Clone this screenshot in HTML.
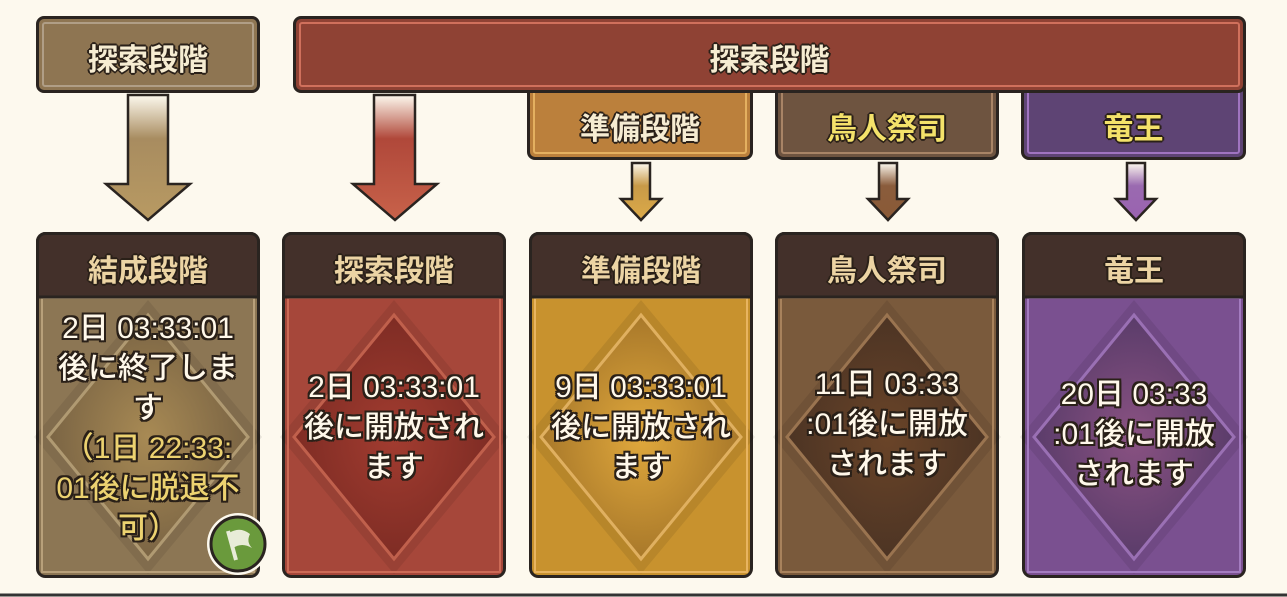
<!DOCTYPE html>
<html><head><meta charset="utf-8"><style>
body{margin:0;width:1287px;height:597px;background:#fdf9ee;position:relative;overflow:hidden;font-family:"Liberation Sans","Noto Sans CJK JP",sans-serif;}
.a{position:absolute;box-sizing:border-box;}
.box{border:3px solid #2a2420;border-radius:8px;}
.in{position:absolute;left:3px;right:3px;top:3px;bottom:3px;border:2px solid rgba(255,255,255,0.3);border-radius:3px;}
.t{position:absolute;left:0;right:0;text-align:center;color:#f6ecd2;font-size:30px;font-weight:bold;
text-shadow:-2px 0 #2a2018,2px 0 #2a2018,0 -2px #2a2018,0 2px #2a2018,-1px -1px #2a2018,1px 1px #2a2018,-1px 1px #2a2018,1px -1px #2a2018;}
.bt{position:absolute;left:0;right:0;text-align:center;color:#fff8ea;font-size:30px;line-height:40px;font-weight:500;
text-shadow:-2px 0 #2a2018,2px 0 #2a2018,0 -2px #2a2018,0 2px #2a2018,-2px -2px #2a2018,2px 2px #2a2018,-2px 2px #2a2018,2px -2px #2a2018;}
.hy{color:#ecd4a4;}
.yl{color:#f4e26a;}
.bt .yl{color:#ecd270;}
</style></head><body>

<div class="a box" style="left:36px;top:16px;width:224px;height:77px;background:#8e7552;"><div class="in"></div><div class="t" style="top:16px">探索段階</div></div>
<div class="a box" style="left:293px;top:16px;width:953px;height:77px;background:#8f4234;z-index:2"><div class="in" style="border-color:#d0705c"></div><div class="t" style="top:16px">探索段階</div></div>
<div class="a box" style="left:527px;top:80px;width:226px;height:80px;background:#bb803c;"><div class="in" style="border-color:#e4b060"></div><div class="t" style="top:21px">準備段階</div></div>
<div class="a box" style="left:775px;top:80px;width:224px;height:80px;background:#6e5440;"><div class="in" style="border-color:#a88466"></div><div class="t yl" style="top:21px">鳥人祭司</div></div>
<div class="a box" style="left:1021px;top:80px;width:225px;height:80px;background:#5e4474;"><div class="in" style="border-color:#a074c0"></div><div class="t yl" style="top:21px">竜王</div></div>

<svg class="a" style="left:0;top:0" width="1287" height="597">
<defs>
<linearGradient id="g1" x1="0" y1="0" x2="0" y2="1"><stop offset="0" stop-color="#fdf9ee"/><stop offset="0.35" stop-color="#a88c60"/><stop offset="1" stop-color="#b89a62"/></linearGradient>
<linearGradient id="g2" x1="0" y1="0" x2="0" y2="1"><stop offset="0" stop-color="#fdf9ee"/><stop offset="0.35" stop-color="#b0483a"/><stop offset="1" stop-color="#c8624a"/></linearGradient>
<linearGradient id="g3" x1="0" y1="0" x2="0" y2="1"><stop offset="0" stop-color="#fdf9ee"/><stop offset="0.4" stop-color="#c89a48"/><stop offset="1" stop-color="#dcaa48"/></linearGradient>
<linearGradient id="g4" x1="0" y1="0" x2="0" y2="1"><stop offset="0" stop-color="#fdf9ee"/><stop offset="0.4" stop-color="#8a5c3c"/><stop offset="1" stop-color="#8a5a36"/></linearGradient>
<linearGradient id="g5" x1="0" y1="0" x2="0" y2="1"><stop offset="0" stop-color="#fdf9ee"/><stop offset="0.4" stop-color="#9a6ab0"/><stop offset="1" stop-color="#9a62b0"/></linearGradient>
</defs>
<polygon points="128,95 168,95 168,184 190,184 148,220 106,184 128,184" fill="url(#g1)" stroke="#2a2420" stroke-width="2.5"/>
<polygon points="374,95 415,95 415,184 437,184 395,220 353,184 374,184" fill="url(#g2)" stroke="#2a2420" stroke-width="2.5"/>
<polygon points="632,163 650,163 650,199 661,199 641,220 621,199 632,199" fill="url(#g3)" stroke="#2a2420" stroke-width="2.5"/>
<polygon points="879,163 897,163 897,199 908,199 888,220 868,199 879,199" fill="url(#g4)" stroke="#2a2420" stroke-width="2.5"/>
<polygon points="1127,163 1145,163 1145,199 1156,199 1136,220 1116,199 1127,199" fill="url(#g5)" stroke="#2a2420" stroke-width="2.5"/>
</svg>

<svg class="a" style="left:0;top:0" width="1287" height="597">
<defs>
<radialGradient id="r1"><stop offset="0" stop-color="#a88a54"/><stop offset="1" stop-color="#7a6444"/></radialGradient>
<radialGradient id="r2"><stop offset="0" stop-color="#a23c30"/><stop offset="1" stop-color="#7e2c24"/></radialGradient>
<radialGradient id="r3"><stop offset="0" stop-color="#e0a83c"/><stop offset="1" stop-color="#a8782a"/></radialGradient>
<radialGradient id="r4"><stop offset="0" stop-color="#6a4428"/><stop offset="1" stop-color="#4c3424"/></radialGradient>
<radialGradient id="r5"><stop offset="0" stop-color="#8a5282"/><stop offset="1" stop-color="#5a3c6a"/></radialGradient>
</defs>
<g stroke="#2a2420" stroke-width="3">
<rect x="37.5" y="233.5" width="221" height="343" rx="8" fill="#8c7654"/>
<rect x="283.5" y="233.5" width="221" height="343" rx="8" fill="#a6473a"/>
<rect x="530.5" y="233.5" width="221" height="343" rx="8" fill="#c8922e"/>
<rect x="776.5" y="233.5" width="221" height="343" rx="8" fill="#7a5a3c"/>
<rect x="1023.5" y="233.5" width="221" height="343" rx="8" fill="#7a5090"/>
</g>
<g fill="#000" opacity="0.08">
<polygon points="148,300 262,437 148,574 34,437"/>
<polygon points="394,300 508,437 394,574 280,437"/>
<polygon points="641,300 755,437 641,574 527,437"/>
<polygon points="887,300 1001,437 887,574 773,437"/>
<polygon points="1134,300 1248,437 1134,574 1020,437"/>
</g>
<g>
<polygon points="148,315 248,437 148,559 48,437" fill="url(#r1)" stroke="#b09a72" stroke-width="3"/>
<polygon points="394,315 494,437 394,559 294,437" fill="url(#r2)" stroke="#c0604c" stroke-width="3"/>
<polygon points="641,315 741,437 641,559 541,437" fill="url(#r3)" stroke="#e0b060" stroke-width="3"/>
<polygon points="887,315 987,437 887,559 787,437" fill="url(#r4)" stroke="#9a7450" stroke-width="3"/>
<polygon points="1134,315 1234,437 1134,559 1034,437" fill="url(#r5)" stroke="#9a70b4" stroke-width="3"/>
</g>
<g fill="none" stroke-width="2">
<rect x="42" y="298" width="212" height="274" stroke="#b8a07a"/>
<rect x="288" y="298" width="212" height="274" stroke="#cc6a56"/>
<rect x="535" y="298" width="212" height="274" stroke="#e8b460"/>
<rect x="781" y="298" width="212" height="274" stroke="#a8825c"/>
<rect x="1028" y="298" width="212" height="274" stroke="#a47cc0"/>
</g>
<g fill="#43302a" stroke="#2a2420" stroke-width="3">
<path d="M37.5,297 V241.5 a8,8 0 0 1 8,-8 H250.5 a8,8 0 0 1 8,8 V297 Z"/>
<path d="M283.5,297 V241.5 a8,8 0 0 1 8,-8 H496.5 a8,8 0 0 1 8,8 V297 Z"/>
<path d="M530.5,297 V241.5 a8,8 0 0 1 8,-8 H743.5 a8,8 0 0 1 8,8 V297 Z"/>
<path d="M776.5,297 V241.5 a8,8 0 0 1 8,-8 H989.5 a8,8 0 0 1 8,8 V297 Z"/>
<path d="M1023.5,297 V241.5 a8,8 0 0 1 8,-8 H1236.5 a8,8 0 0 1 8,8 V297 Z"/>
</g>
<circle cx="238" cy="544" r="31" fill="#fdf9ee"/>
<circle cx="238" cy="544" r="27" fill="#6a9a3c" stroke="#2a2420" stroke-width="3"/>
<path d="M228,531 L236,560" stroke="#e8ecd8" stroke-width="4"/>
<path d="M229,533 Q240,526 250,534 Q246,542 252,548 Q242,542 233,548 Z" fill="#e8ecd8"/>
<line x1="0" y1="595" x2="1287" y2="595" stroke="#333" stroke-width="3"/>
</svg>

<div class="a" style="left:36px;top:236px;width:224px;"><div class="t hy" style="top:10px">結成段階</div></div>
<div class="a" style="left:282px;top:236px;width:224px;"><div class="t hy" style="top:10px">探索段階</div></div>
<div class="a" style="left:529px;top:236px;width:224px;"><div class="t hy" style="top:10px">準備段階</div></div>
<div class="a" style="left:775px;top:236px;width:224px;"><div class="t hy" style="top:10px">鳥人祭司</div></div>
<div class="a" style="left:1022px;top:236px;width:224px;"><div class="t hy" style="top:10px">竜王</div></div>

<div class="a" style="left:40px;top:309px;width:216px;"><div class="bt">2日 03:33:01<br>後に終了しま<br>す<br><span class="yl">（1日 22:33:<br>01後に脱退不<br>可）</span></div></div>
<div class="a" style="left:286px;top:368px;width:216px;"><div class="bt">2日 03:33:01<br>後に開放され<br>ます</div></div>
<div class="a" style="left:533px;top:368px;width:216px;"><div class="bt">9日 03:33:01<br>後に開放され<br>ます</div></div>
<div class="a" style="left:779px;top:365px;width:216px;"><div class="bt">11日 03:33<br>:01後に開放<br>されます</div></div>
<div class="a" style="left:1026px;top:375px;width:216px;"><div class="bt">20日 03:33<br>:01後に開放<br>されます</div></div>
</body></html>
